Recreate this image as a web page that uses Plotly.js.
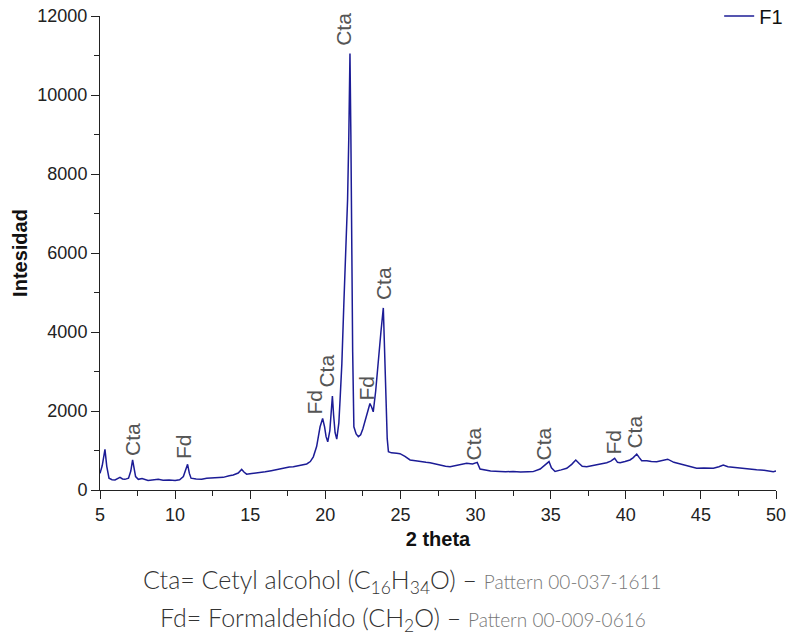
<!DOCTYPE html>
<html>
<head>
<meta charset="utf-8">
<script src="https://cdn.plot.ly/plotly-3.0.1.min.js"></script>
<style>html,body{margin:0;padding:0;background:#fff;}#chart{width:786px;height:636px;}</style>
</head>
<body>
<div id="chart"></div>
<script>
// 2 theta (degrees)
const twoTheta = [5.00,5.15,5.33,5.45,5.60,5.80,6.00,6.33,6.50,6.66,6.90,7.05,7.17,7.27,7.37,7.55,7.80,8.20,8.50,8.88,9.20,9.60,10.00,10.30,10.55,10.70,10.83,10.95,11.06,11.40,11.77,12.10,12.50,12.87,13.20,13.60,13.87,14.20,14.43,14.60,14.76,15.10,15.65,16.00,16.40,16.76,17.20,17.60,17.87,18.20,18.50,18.76,19.00,19.20,19.42,19.55,19.65,19.82,19.95,20.05,20.16,20.30,20.40,20.47,20.55,20.65,20.76,20.90,20.98,21.10,21.24,21.36,21.48,21.56,21.64,21.70,21.76,21.82,21.90,22.05,22.20,22.35,22.50,22.65,22.75,22.85,22.97,23.08,23.19,23.35,23.53,23.70,23.86,23.95,24.04,24.12,24.20,24.40,24.75,24.97,25.30,25.64,26.00,26.30,26.70,26.97,27.30,27.70,28.00,28.30,28.70,29.00,29.41,29.80,30.11,30.30,30.70,31.00,31.63,32.00,32.50,33.00,33.50,33.83,34.30,34.60,34.89,35.05,35.29,35.70,36.07,36.40,36.67,36.90,37.10,37.40,37.80,38.20,38.73,39.00,39.26,39.45,39.62,39.95,40.28,40.50,40.73,40.90,41.06,41.40,41.70,42.06,42.40,42.79,43.20,43.61,44.00,44.40,44.72,45.20,45.83,46.20,46.49,46.80,47.20,47.60,48.10,48.71,49.20,49.50,49.82,50.00];
// Intensity (counts)
const intensidad = [420,620,1030,600,300,260,255,320,280,270,300,480,760,520,340,270,290,240,260,270,250,255,240,260,340,520,650,420,300,280,270,300,310,330,320,360,380,430,520,450,400,420,440,460,490,520,540,580,590,620,640,660,720,840,1100,1430,1600,1810,1600,1350,1220,1500,2100,2380,1900,1450,1290,1700,2280,3200,4800,6000,7340,8900,11050,9000,6000,3500,1600,1420,1350,1400,1550,1750,1860,2050,2190,2100,1980,2500,3370,4000,4610,3300,1950,1300,970,940,930,920,850,760,740,716,700,690,660,620,600,590,620,650,675,660,700,530,500,480,470,460,470,455,460,465,530,620,720,560,470,510,550,650,760,670,600,590,620,660,690,730,800,700,690,720,760,820,910,820,740,740,720,716,740,780,700,660,620,580,550,560,550,590,630,590,570,550,530,510,500,490,465,480];

// Peak labels
const peakLabels = ["Cta","Fd","Fd","Cta","Cta","Fd","Cta","Cta","Cta","Fd","Cta"];
const labelX = [7.13,10.53,19.28,20.08,21.21,22.74,23.87,29.86,34.52,39.18,40.55];
const labelY = [1265,1088,2226,3011,11663,2581,5224,1164,1164,1214,1455];

const seriesName = "F1";
const lineColor = "#1c1c96";

const annotations = peakLabels.map((t,i)=>({
  x: labelX[i], y: labelY[i], xref:'x', yref:'y', text: t, showarrow:false,
  textangle:-90, xanchor:'center', yanchor:'middle',
  font:{family:'Liberation Sans, Arial, sans-serif', size:21, color:'#555'}
}));

annotations.push({
  xref:'paper', yref:'paper', x:0.448, y:-0.192, xanchor:'center', yanchor:'middle', showarrow:false,
  text:'Cta= Cetyl alcohol (C<sub>16</sub>H<sub>34</sub>O) – <span style="font-size:19px;color:#777">Pattern 00-037-1611</span>',
  font:{family:'Lato, sans-serif', size:25, color:'#333', weight:300}
});
annotations.push({
  xref:'paper', yref:'paper', x:0.448, y:-0.272, xanchor:'center', yanchor:'middle', showarrow:false,
  text:'Fd= Formaldehído (CH<sub>2</sub>O) – <span style="font-size:19px;color:#777">Pattern 00-009-0616</span>',
  font:{family:'Lato, sans-serif', size:25, color:'#333', weight:300}
});

const trace = {
  x: twoTheta, y: intensidad, type:'scatter', mode:'lines', name: seriesName,
  line:{color: lineColor, width:1.5}
};

const axisFont = {family:'Liberation Sans, Arial, sans-serif', size:18, color:'#222'};
const titleFont = {family:'Liberation Sans, Arial, sans-serif', size:20, color:'#111', weight:'bold'};

const layout = {
  width:786, height:636,
  margin:{l:100, r:10, t:16, b:146, autoexpand:false},
  paper_bgcolor:'#fff', plot_bgcolor:'#fff',
  showlegend:true,
  legend:{x:1.018, y:1.0, xanchor:'right', yanchor:'middle', bgcolor:'rgba(0,0,0,0)',
          font:{family:'Liberation Sans, Arial, sans-serif', size:20, color:'#111'}},
  xaxis:{
    range:[5,50], tick0:5, dtick:5, ticks:'outside', ticklen:8, tickwidth:1, tickcolor:'#222',
    showline:true, linecolor:'#222', linewidth:1, showgrid:false, zeroline:false,
    tickfont:axisFont, tickformat:'d', ticklabeloverflow:'allow',
    minor:{dtick:2.5, ticks:'outside', ticklen:5, tickcolor:'#222', showgrid:false},
    title:{text:'2 theta', font:titleFont, standoff:8}
  },
  yaxis:{
    range:[0,12000], tick0:0, dtick:2000, ticks:'outside', ticklen:8, tickwidth:1, tickcolor:'#222',
    showline:true, linecolor:'#222', linewidth:1, showgrid:false, zeroline:false,
    tickfont:axisFont, tickformat:'d', ticklabeloverflow:'allow',
    minor:{dtick:1000, ticks:'outside', ticklen:5, tickcolor:'#222', showgrid:false},
    title:{text:'Intesidad', font:titleFont, standoff:4}
  },
  annotations: annotations
};

Plotly.newPlot('chart', [trace], layout, {displayModeBar:false, staticPlot:true});
</script>
</body>
</html>
